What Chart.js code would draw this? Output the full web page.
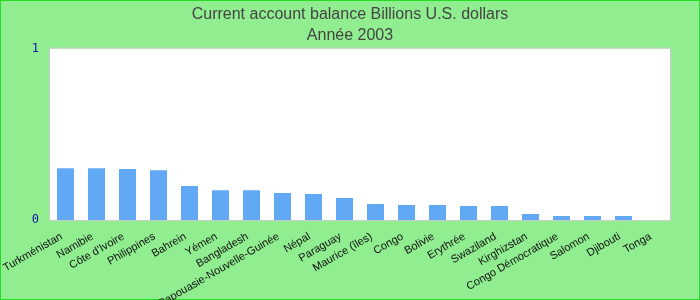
<!DOCTYPE html>
<html>
<head>
<meta charset="utf-8">
<script src="https://cdn.jsdelivr.net/npm/chart.js@4.4.0/dist/chart.umd.min.js"></script>
<style>
  html, body { margin: 0; padding: 0; background: #90ee90; }
  #wrap { width: 700px; height: 300px; }
</style>
</head>
<body>
<div id="wrap"><canvas id="chart" width="700" height="300"></canvas></div>
<script>
const countries = [
  "Turkménistan", "Namibie", "Côte d'Ivoire", "Philippines", "Bahrein",
  "Yémen", "Bangladesh", "Papouasie-Nouvelle-Guinée", "Népal", "Paraguay",
  "Maurice (îles)", "Congo", "Bolivie", "Erythrée", "Swaziland",
  "Kirghizstan", "Congo Démocratique", "Salomon", "Djibouti", "Tonga"
];
const balance = [
  0.302, 0.302, 0.297, 0.29, 0.198,
  0.174, 0.174, 0.157, 0.151, 0.128,
  0.093, 0.087, 0.087, 0.081, 0.081,
  0.035, 0.023, 0.023, 0.023, 0
];
const yTicks = [0, 1];

// green page background, white plot box with grey frame, green outer border
const frame = {
  id: 'frame',
  beforeDraw(chart) {
    const { ctx, chartArea: a, width, height } = chart;
    ctx.save();
    ctx.fillStyle = '#90ee90';
    ctx.fillRect(0, 0, width, height);
    ctx.fillStyle = '#ffffff';
    ctx.fillRect(a.left, a.top, a.right - a.left, a.bottom - a.top);
    ctx.strokeStyle = '#cccccc';
    ctx.lineWidth = 1;
    ctx.strokeRect(a.left - 0.5, a.top - 0.5, a.right - a.left + 1, a.bottom - a.top + 1);
    ctx.strokeStyle = '#22dd22';
    ctx.strokeRect(0.5, 0.5, width - 1, height - 1);
    ctx.restore();
  }
};

new Chart(document.getElementById('chart'), {
  type: 'bar',
  data: {
    labels: countries,
    datasets: [{
      data: balance,
      backgroundColor: '#62a9f5',
      barPercentage: 0.55,
      categoryPercentage: 1
    }]
  },
  options: {
    responsive: false,
    animation: false,
    layout: { padding: 0 },
    plugins: {
      legend: { display: false },
      tooltip: { enabled: false },
      title: {
        display: true,
        text: ['Current account balance Billions U.S. dollars', 'Année 2003'],
        color: '#444444',
        font: { family: 'Liberation Sans, Arial, sans-serif', size: 16, weight: 'normal', lineHeight: 1.3 },
        padding: { top: 4, bottom: 3 }
      }
    },
    scales: {
      x: {
        grid: { display: false, drawTicks: false },
        border: { display: false },
        ticks: {
          autoSkip: false,
          maxRotation: 30,
          minRotation: 30,
          padding: 10,
          labelOffset: -4,
          color: '#111111',
          font: { family: 'Liberation Sans, Arial, sans-serif', size: 11 }
        },
        afterFit(scale) {
          scale.height = 80;
          scale.paddingLeft = 0;
          scale.paddingRight = 0;
        }
      },
      y: {
        min: 0,
        max: 1,
        grid: { display: false, drawTicks: false },
        border: { display: false },
        afterBuildTicks(scale) { scale.ticks = yTicks.map(v => ({ value: v })); },
        ticks: {
          padding: 11,
          color: '#1010a0',
          font: { family: 'DejaVu Sans Mono, monospace', size: 12 }
        },
        afterFit(scale) { scale.width = 50; }
      },
      // empty right-hand strip so the plot ends at 670 while the title stays centred
      yRight: {
        position: 'right',
        min: 0,
        max: 1,
        grid: { display: false, drawTicks: false },
        border: { display: false },
        ticks: { display: false },
        afterFit(scale) { scale.width = 30; }
      }
    }
  },
  plugins: [frame]
});
</script>
</body>
</html>
